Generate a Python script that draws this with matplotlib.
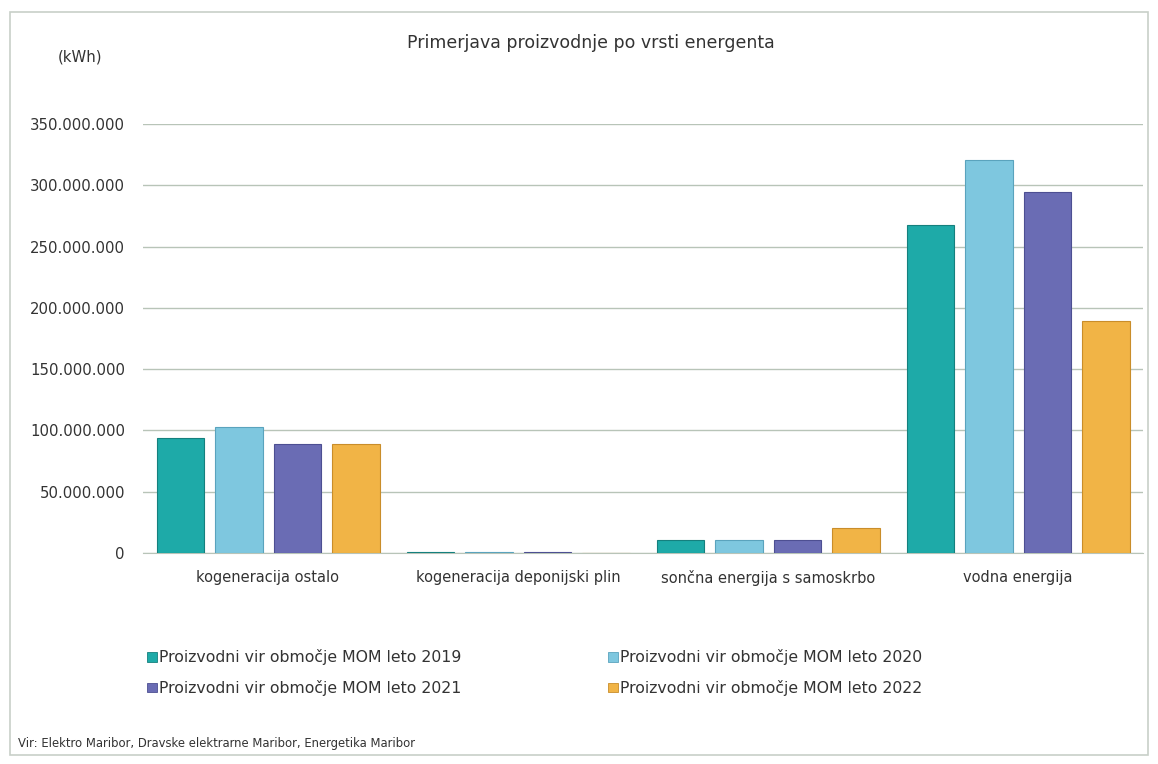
import matplotlib.pyplot as plt
import numpy as np
from matplotlib.patches import Rectangle, Patch

# Kategorije in proizvodnja (kWh)
kategorije = ["kogeneracija ostalo", "kogeneracija deponijski plin",
              "sončna energija s samoskrbo", "vodna energija"]
leta = ["2019", "2020", "2021", "2022"]
v2019 = [93800000, 600000, 10600000, 268000000]
v2020 = [102800000, 500000, 10600000, 320500000]
v2021 = [88900000, 700000, 10800000, 294400000]
v2022 = [88900000, 400000, 20400000, 189000000]
serije = [v2019, v2020, v2021, v2022]

barve = ["#1eaaa8", "#7ec7df", "#6a6cb4", "#f1b446"]
robovi = ["#15807e", "#5aa3bd", "#4d4f92", "#c98d2a"]

fig = plt.figure(figsize=(11.58, 7.64), dpi=100)
fig.patch.set_facecolor("white")

# okvir okoli grafa
fig.patches.append(Rectangle((10/1158, 1 - 755/764), 1138/1158, 743/764,
                             transform=fig.transFigure, fill=False,
                             edgecolor="#c8d0c8", linewidth=1.2))

ax = fig.add_axes([143/1158, 1 - 553/764, 1000/1158, 429/764])

x = np.arange(len(kategorije))
sirina = 0.19
korak = 0.234
for i, (vals, c, e) in enumerate(zip(serije, barve, robovi)):
    ax.bar(x + (i - 1.5) * korak, vals, width=sirina, color=c,
           edgecolor=e, linewidth=0.8, zorder=3)

ax.set_xlim(-0.5, 3.5)
ax.set_ylim(0, 350000000)
yticks = np.arange(0, 350000001, 50000000)
ax.set_yticks(yticks)
ax.set_yticklabels([f"{int(t):,}".replace(",", ".") for t in yticks],
                   fontsize=10.7, color="#333333")
ax.grid(axis="y", color="#b8c4b8", linewidth=1.0, zorder=0)
ax.set_xticks(x)
ax.set_xticklabels(kategorije, fontsize=10.5, color="#333333")
ax.tick_params(axis="both", length=0)
ax.tick_params(axis="y", pad=13)
ax.tick_params(axis="x", pad=12)
for s in ["top", "right", "left"]:
    ax.spines[s].set_visible(False)
ax.spines["bottom"].set_color("#b8c4b8")

fig.text(591/1158, 1 - 43/764, "Primerjava proizvodnje po vrsti energenta",
         ha="center", va="center", fontsize=12.5, color="#333333")
fig.text(80/1158, 1 - 57/764, "(kWh)", ha="center", va="center",
         fontsize=10.7, color="#333333")

rocke = [Patch(facecolor=c, edgecolor=e, linewidth=0.6) for c, e in zip(barve, robovi)]
oznake = ["Proizvodni vir območje MOM leto " + l for l in leta]
# dva stolpca: 2019/2021 levo, 2020/2022 desno
for idx, xpos in [([0, 2], 133), ([1, 3], 594)]:
    fig.legend([rocke[i] for i in idx], [oznake[i] for i in idx],
               loc="upper left", bbox_to_anchor=(xpos/1158, 1 - 635/764),
               ncol=1, frameon=False, fontsize=11.3, handlelength=0.6,
               handleheight=0.6, handletextpad=0.15,
               labelspacing=0.95, labelcolor="#333333")

fig.text(18/1158, 1 - 743/764,
         "Vir: Elektro Maribor, Dravske elektrarne Maribor, Energetika Maribor",
         ha="left", va="center", fontsize=8.4, color="#333333")

fig.savefig("out.png", dpi=100)
